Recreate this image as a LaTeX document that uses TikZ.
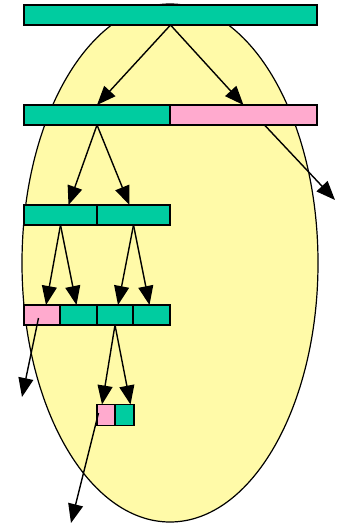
\documentclass[tikz,border=0pt]{standalone}
\usetikzlibrary{arrows.meta,calc}
\definecolor{boxgreen}{RGB}{0,204,160}
\definecolor{boxpink}{RGB}{255,170,206}
\definecolor{pool}{RGB}{255,250,168}
\tikzset{
  cell/.style={draw=black, line width=1.2pt, inner sep=0pt, outer sep=0pt, minimum height=20pt},
  green cell/.style={cell, fill=boxgreen},
  pink cell/.style={cell, fill=boxpink},
  arr/.style={line width=1.4pt, -{Triangle[length=19pt,width=15pt]}},
}
\begin{document}
\begin{tikzpicture}[x=1pt,y=-1pt]
\useasboundingbox (0,0) rectangle (342,526);
% region holding the surviving pieces
\draw[line width=1.2pt, fill=pool] (170,263) ellipse [x radius=148, y radius=259];

% level 1
\node[green cell, minimum width=293pt] (top) at (170.5,15) {};
% level 2
\node[green cell, minimum width=146pt] (l2a) at (97,115) {};
\node[pink cell, minimum width=147pt] (l2b) at (243.5,115) {};
% level 3
\node[green cell, minimum width=73pt] (l3a) at (60.5,215) {};
\node[green cell, minimum width=73pt] (l3b) at (133.5,215) {};
% level 4
\node[pink cell, minimum width=36pt] (l4a) at (42,315) {};
\node[green cell, minimum width=37pt] (l4b) at (78.5,315) {};
\node[green cell, minimum width=36pt] (l4c) at (115,315) {};
\node[green cell, minimum width=37pt] (l4d) at (151.5,315) {};
% level 5
\node[pink cell, minimum width=18pt, minimum height=21pt] (l5a) at (106,415) {};
\node[green cell, minimum width=19pt, minimum height=21pt] (l5b) at (124.5,415) {};

% free ends of the discarded pieces
\coordinate (out1) at (335,200);
\coordinate (out2) at (22,397);
\coordinate (out3) at (71,523);

% splits
\draw[arr] (top.south) -- (l2a.north);
\draw[arr] (top.south) -- (l2b.north);
\draw[arr] ($(top.south)!0.5714!(out1)$) -- (out1);
\draw[arr] (l2a.south) -- ($(l3a.north)+(8,0)$);
\draw[arr] (l2a.south) -- ($(l3b.north)+(-4,0)$);
\draw[arr] (l3a.south) -- ($(l4a.north)+(4,0)$);
\draw[arr] (l3a.south) -- ($(l4b.north)+(-2,0)$);
\draw[arr] (l3b.south) -- ($(l4c.north)+(3,0)$);
\draw[arr] (l3b.south) -- ($(l4d.north)+(-2,0)$);
\draw[arr] ($(l4a.center)+(-3.5,3)$) -- (out2);
\draw[arr] (l4c.south) -- ($(l5a.north)+(-4,0)$);
\draw[arr] (l4c.south) -- ($(l5b.north)+(6,0)$);
\draw[arr] ($(l5a.west)+(1.5,-2)$) -- (out3);
\end{tikzpicture}
\end{document}
